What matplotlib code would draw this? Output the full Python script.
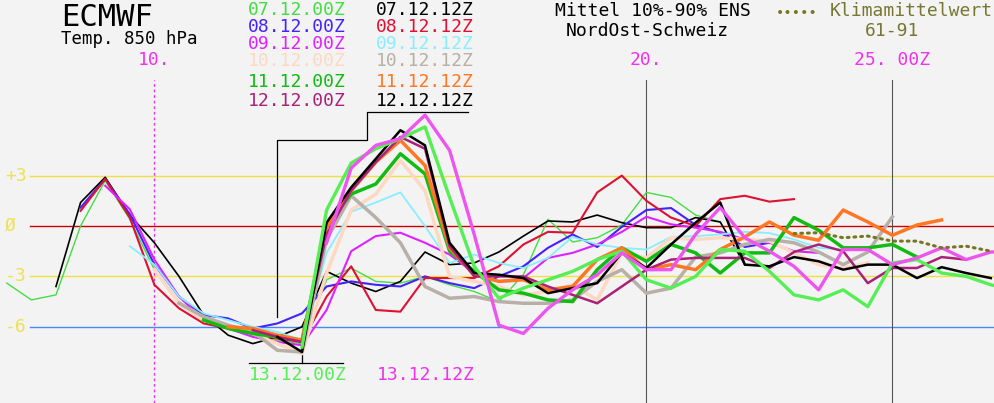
import numpy as np
import matplotlib
matplotlib.use('Agg')
import matplotlib.pyplot as plt

# ensemble-mean runs: label, first plotted day (December), 12h steps
runs = ['07.12.00Z', '07.12.12Z', '08.12.00Z', '08.12.12Z', '09.12.00Z', '09.12.12Z',
        '10.12.00Z', '10.12.12Z', '11.12.00Z', '11.12.12Z', '12.12.00Z', '12.12.12Z',
        '13.12.00Z', '13.12.12Z']
run_start = [7.0, 8.0, 8.5, 8.5, 9.0, 9.5, 10.0, 10.5, 11.0, 11.5, 12.0, 12.5, 13.0, 13.5]
run_colors = ['#44dd44', '#000000', '#4422ff', '#dd1133', '#dd22ff', '#88eeff',
              '#ffd8c2', '#b8b0a8', '#11bb11', '#ff7722', '#aa2277', '#000000',
              '#55ee55', '#ee55ee']
run_widths = [1.0, 1.2, 1.5, 1.5, 1.5, 1.3, 2.5, 2.5, 2.5, 2.5, 1.8, 1.8, 2.4, 2.4]

r0700 = [-3.4, -4.4, -4.1, 0.0, 2.7, 0.4, -2.6, -4.5, -5.5, -6.1, -6.5, -6.8, -7.0, -3.2, -2.5,
         -3.3, -3.4, -3.0, -3.5, -3.9, -4.5, -2.9, 0.4, -0.95, -0.7, 0.06, 2.0, 1.7, 0.65, 0.24]
r0712 = [-3.6, 1.4, 2.9, 0.65, -1.0, -3.0, -5.3, -6.5, -7.0, -6.6, -6.0, -2.7, -3.4, -3.9, -3.3,
         -1.55, -2.3, -2.2, -1.55, -0.6, 0.3, 0.24, 0.65, 0.2, -0.1, -0.1, 0.5, 0.24, -2.3]
r0800 = [1.1, 2.8, 0.7, -2.3, -4.2, -5.3, -5.5, -6.1, -5.8, -5.2, -3.6, -3.3, -3.5, -3.6, -3.0,
         -3.4, -3.7, -3.0, -2.4, -1.3, -0.5, -1.25, -0.05, 0.95, 1.07, 0.06, -0.4, -1.25, -1.0]
r0812 = [0.9, 2.8, 0.5, -3.5, -4.9, -5.8, -6.1, -6.4, -6.7, -6.9, -4.2, -2.4, -5.0, -5.1, -3.1,
         -3.1, -3.1, -2.4, -1.1, -0.35, -0.4, 2.0, 3.0, 1.5, 0.5, 0.0, 1.6, 1.8, 1.45, 1.6]
r0900 = [2.4, 1.0, -2.0, -4.2, -5.6, -6.1, -6.6, -6.9, -7.1, -5.0, -1.5, -0.6, -0.4, -1.0, -1.7,
         -2.8, -3.3, -3.1, -1.9, -1.6, -1.1, -0.35, 0.55, 0.1, -0.1, -0.35, -0.8, -1.0, -1.5, -1.6]
r0912 = [-1.2, -2.3, -4.2, -5.2, -5.6, -6.0, -6.3, -6.8, -1.6, 0.85, 1.4, 2.0, 0.0, -2.2, -1.7,
         -2.2, -2.5, -1.9, -0.65, -1.1, -1.3, -1.4, -0.65, -0.6, -0.5, -0.35, -0.42, -0.8, -1.3, -1.4]
r1000 = [-2.6, -4.6, -5.6, -6.0, -6.4, -7.0, -7.6, -2.8, 0.95, 1.9, 3.9, 2.1, -3.0, -3.3, -3.6,
         -4.1, -3.9, -3.5, -4.4, -1.6, -1.9, -0.7, -0.8, -0.7, -0.8, -0.9, -1.6, -2.3, -2.5, -2.2]
r1012 = [-4.6, -5.4, -5.9, -6.3, -7.4, -7.5, -0.8, 1.8, 0.5, -1.0, -3.6, -4.3, -4.2, -4.5, -4.6,
         -4.6, -4.4, -3.3, -2.6, -4.0, -3.7, -1.85, -1.6, -1.1, -0.8, -1.0, -1.55, -2.3, -1.55, 0.55]
r1100 = [-5.6, -6.1, -6.4, -6.6, -6.8, 0.1, 1.9, 2.5, 4.3, 3.1, -1.5, -2.7, -3.8, -4.0, -4.4,
         -4.5, -2.6, -1.3, -2.1, -1.1, -1.6, -2.8, -1.6, -1.6, 0.5, -0.25, -1.3, -1.3, -1.1, -1.85]
r1112 = [-6.0, -6.1, -6.5, -6.8, -0.1, 2.1, 3.8, 5.1, 3.6, -1.3, -2.9, -3.3, -3.2, -3.8, -3.6,
         -2.0, -1.3, -2.6, -2.3, -2.6, -1.4, -0.65, 0.24, -0.55, -0.85, 0.95, 0.24, -0.55, 0.06, 0.36]
r1200 = [-6.2, -6.6, -6.9, -0.5, 2.1, 3.8, 5.3, 4.6, -1.2, -3.0, -3.0, -3.0, -3.6, -4.1, -4.6,
         -3.6, -2.6, -2.0, -1.9, -1.9, -1.9, -2.5, -1.55, -1.1, -1.5, -3.4, -2.5, -2.5, -1.85, -2.0]
r1212 = [-6.6, -7.5, 0.2, 2.3, 4.0, 5.7, 4.8, -1.0, -2.8, -2.9, -3.1, -4.0, -3.7, -3.4, -1.6,
         -2.5, -1.1, 0.2, 1.4, -2.3, -2.4, -1.85, -2.1, -2.6, -2.3, -2.3, -3.1, -2.45, -2.8, -3.1]
r1300 = [-7.2, 0.95, 3.75, 4.6, 5.2, 5.9, 1.7, -2.4, -4.3, -3.7, -3.2, -2.7, -2.0, -1.5, -3.2,
         -3.7, -3.0, -1.4, -1.5, -2.7, -4.1, -4.4, -3.8, -4.8, -2.2, -2.0, -2.8, -3.0, -3.5, -3.8]
r1312 = [-1.0, 3.45, 4.8, 5.2, 6.6, 4.5, -0.5, -5.9, -6.4, -4.9, -3.8, -2.9, -1.6, -2.6, -2.6,
         -0.5, 1.1, -0.7, -1.5, -2.4, -3.8, -1.4, -1.4, -2.3, -1.9, -1.3, -2.0, -1.55, -1.5]
run_values = [r0700, r0712, r0800, r0812, r0900, r0912, r1000, r1012,
              r1100, r1112, r1200, r1212, r1300, r1312]
step = 0.5

# climate mean 1961-91
clim_start = 23.0
clim = [-0.45, -0.4, -0.7, -0.6, -0.9, -0.9, -1.3, -1.2, -1.5]

ref_levels = [3, 0, -3, -6]
ref_labels = ['+3', 'Ø', '-3', '-6']
ref_colors = ['#f0e040', '#cc0000', '#f0e040', '#4a8af0']

day_marks = [10, 20, 25]
day_labels = ['10.', '20.', '25. 00Z']

bg = '#f3f3f3'
W, H = 995, 403
fig = plt.figure(figsize=(W / 100, H / 100), dpi=100)
fig.patch.set_facecolor(bg)
ax = fig.add_axes([0, 0, 1, 1])
ax.set_facecolor(bg)
ax.axis('off')
ax.set_xlim(6.862, 27.085)
ax.set_ylim(-10.536, 13.452)

mono = 'DejaVu Sans Mono'


def fx(px):
    return px / W


def fy(py):
    return 1 - py / H


# reference lines and their labels
for lvl, lab, c in zip(ref_levels, ref_labels, ref_colors):
    ax.axhline(lvl, xmin=0.03, xmax=1, color=c, lw=1.0, zorder=1)
    ax.text(0.005, lvl, lab, transform=ax.get_yaxis_transform(), color='#f0e050',
            fontsize=13, family=mono, va='center', ha='left')

# day markers
ytop = fy(80)
ax.axvline(day_marks[0], ymin=0, ymax=ytop, color='#ee33ee', lw=1.0, ls=(0, (2, 2)), zorder=1)
ax.axvline(day_marks[1], ymin=0, ymax=ytop, color='#555555', lw=0.8, zorder=1)
ax.axvline(day_marks[2], ymin=0, ymax=ytop, color='#555555', lw=0.8, zorder=1)
for d, lab in zip(day_marks, day_labels):
    ax.text(d, 9.9, lab, color='#ee33ee', fontsize=13, family=mono, ha='center', va='center')

# forecast runs
for vals, s, c, w in zip(run_values, run_start, run_colors, run_widths):
    t = s + step * np.arange(len(vals))
    ax.plot(t, vals, color=c, lw=w, zorder=3)

# climate mean (dotted)
tc = clim_start + step * np.arange(len(clim))
ax.plot(tc, clim, color='#777722', lw=2.2, ls=(0, (0.6, 1.6)), dash_capstyle='round', zorder=4)

# run brackets
v = lambda py: (226 - py) / 16.8
ax.plot([16.37, 14.32, 14.32, 12.5, 12.5], [v(112), v(112), v(140), v(140), v(317)],
        color='black', lw=0.9, zorder=2)
ax.plot([11.92, 13.83], [v(363), v(363)], color='black', lw=0.9)
ax.plot([13.0, 13.0], [v(363), v(355)], color='black', lw=0.9)

# header
fig.text(fx(61), fy(26), 'ECMWF', fontsize=22, family=mono, va='baseline', ha='left')
fig.text(fx(61), fy(44), 'Temp. 850 hPa', fontsize=12.5, family=mono, va='baseline', ha='left')

col_x = [248, 376]
row_y = [10, 27, 44, 61, 82, 101]
for i, (lab, c) in enumerate(zip(runs[:12], run_colors[:12])):
    col, row = i % 2, i // 2
    fig.text(fx(col_x[col]), fy(row_y[row]), lab, color=c, fontsize=13, family=mono,
             va='center', ha='left')
fig.text(fx(249), fy(375), runs[12], color=run_colors[12], fontsize=13, family=mono,
         va='center', ha='left')
fig.text(fx(377), fy(375), runs[13], color='#ee33ee', fontsize=13, family=mono,
         va='center', ha='left')

fig.text(fx(555), fy(11), 'Mittel 10%-90% ENS', fontsize=13, family=mono, va='center', ha='left')
fig.text(fx(566), fy(31), 'NordOst-Schweiz', fontsize=13, family=mono, va='center', ha='left')
fig.text(fx(776), fy(13), '•••••', color='#777722', fontsize=10, family=mono, va='center', ha='left')
fig.text(fx(830), fy(11), 'Klimamittelwert', color='#777733', fontsize=13, family=mono,
         va='center', ha='left')
fig.text(fx(892), fy(31), '61-91', color='#777733', fontsize=13, family=mono,
         va='center', ha='center')

fig.savefig('out.png', dpi=100, facecolor=bg)
